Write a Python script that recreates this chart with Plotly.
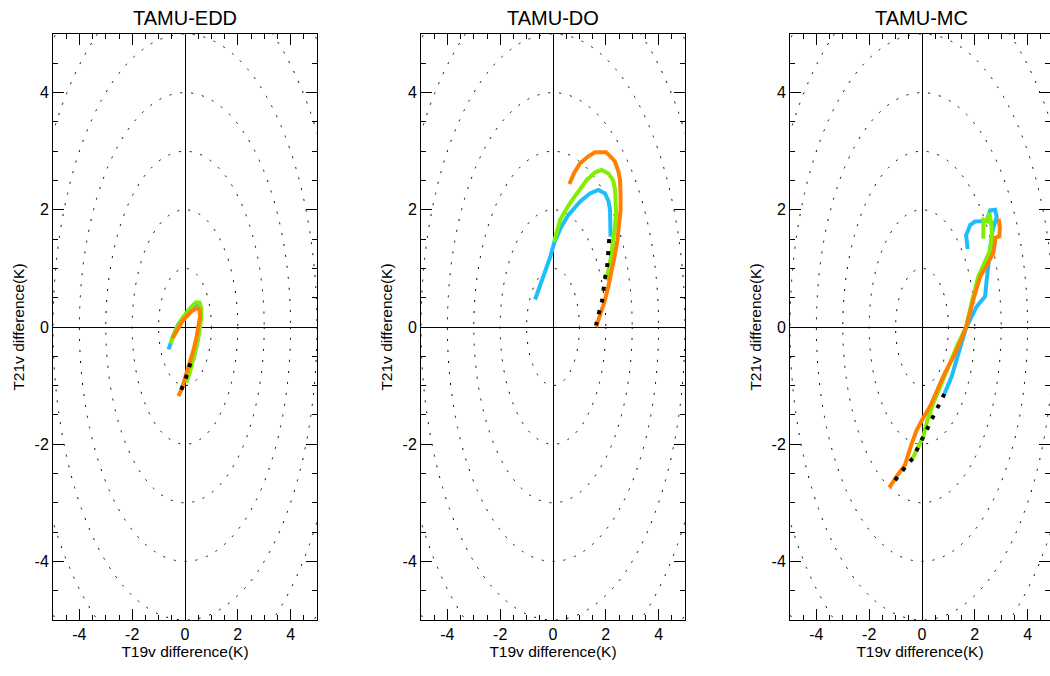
import plotly.graph_objects as go

W, H = 1050, 676

panel_titles = ["TAMU-EDD", "TAMU-DO", "TAMU-MC"]
circle_radii = [1, 2, 3, 4, 5, 6, 7]
tick_vals = [-4, -2, 0, 2, 4]
tick_text = ["-4", "-2", "0", "2", "4"]

# ---- TAMU-EDD ----
edd_cyan_x = [-0.62, -0.45, -0.25, 0.0, 0.25, 0.45, 0.56, 0.6, 0.55, 0.45, 0.32, 0.2]
edd_cyan_y = [-0.38, -0.15, 0.05, 0.2, 0.33, 0.41, 0.38, 0.25, 0.0, -0.3, -0.55, -0.65]
edd_green_x = [-0.55, -0.35, -0.1, 0.15, 0.4, 0.55, 0.62, 0.6, 0.5, 0.35, 0.2, 0.05]
edd_green_y = [-0.28, -0.05, 0.15, 0.3, 0.42, 0.42, 0.32, 0.1, -0.2, -0.5, -0.75, -0.95]
edd_orange_x = [-0.47, -0.31, -0.1, 0.06, 0.25, 0.44, 0.55, 0.57, 0.5, 0.44, 0.33, 0.25, 0.1, 0.0, -0.12, -0.25]
edd_orange_y = [-0.19, -0.05, 0.1, 0.18, 0.27, 0.32, 0.3, 0.18, -0.05, -0.17, -0.38, -0.51, -0.75, -0.9, -1.05, -1.18]
edd_black_x = [0.2, 0.1, 0.0, -0.15]
edd_black_y = [-0.62, -0.78, -0.92, -1.08]

# ---- TAMU-DO ----
do_cyan_x = [-0.68, -0.5, -0.3, -0.1, 0.04, 0.3, 0.58, 1.02, 1.4, 1.72, 1.97, 2.1, 2.16, 2.18, 2.18]
do_cyan_y = [0.47, 0.7, 0.92, 1.2, 1.43, 1.7, 1.91, 2.14, 2.28, 2.34, 2.28, 2.15, 2.0, 1.8, 1.54]
do_green_x = [0.04, 0.15, 0.27, 0.64, 1.0, 1.28, 1.6, 1.84, 2.1, 2.28, 2.35, 2.39, 2.39, 2.34, 2.29, 2.2, 2.1, 2.0]
do_green_y = [1.45, 1.65, 1.83, 2.11, 2.35, 2.51, 2.64, 2.68, 2.62, 2.5, 2.35, 2.1, 1.94, 1.7, 1.48, 1.2, 0.97, 0.8]
do_orange_x = [0.62, 0.8, 1.02, 1.3, 1.59, 2.01, 2.2, 2.35, 2.48, 2.54, 2.56, 2.56, 2.5, 2.44, 2.33, 2.22, 2.1, 1.97, 1.8, 1.63]
do_orange_y = [2.44, 2.63, 2.79, 2.9, 2.98, 2.98, 2.9, 2.82, 2.65, 2.51, 2.25, 2.0, 1.75, 1.48, 1.2, 0.92, 0.7, 0.46, 0.22, 0.0]
do_black_x = [2.13, 2.09, 2.06, 1.98, 1.92, 1.86, 1.74, 1.63]
do_black_y = [1.5, 1.29, 1.07, 0.86, 0.65, 0.45, 0.24, 0.03]

# ---- TAMU-MC ----
mc_cyan_x = [1.73, 1.67, 1.75, 1.82, 2.01, 2.3, 2.45, 2.58, 2.77, 2.83, 2.68, 2.6, 2.51, 2.45, 2.39, 2.07, 1.67, 1.38, 1.12, 0.85]
mc_cyan_y = [1.33, 1.57, 1.65, 1.74, 1.8, 1.8, 1.81, 1.99, 2.0, 1.88, 1.66, 1.4, 1.09, 0.8, 0.52, 0.35, -0.01, -0.45, -0.85, -1.14]
mc_green_x = [2.32, 2.33, 2.48, 2.55, 2.62, 2.65, 2.58, 2.13, 1.9, 1.67, 1.35, 1.06, 0.75, 0.43, 0.2, 0.05, -0.15, -0.35]
mc_green_y = [1.51, 1.83, 1.8, 1.95, 1.78, 1.6, 1.31, 0.86, 0.45, 0.0, -0.3, -0.62, -0.95, -1.3, -1.6, -1.87, -2.05, -2.24]
mc_orange_x = [2.9, 2.95, 2.93, 2.78, 2.75, 2.7, 2.45, 2.2, 1.94, 1.67, 1.45, 1.19, 0.85, 0.56, 0.3, 0.05, -0.2, -0.39, -0.64, -0.96, -1.24]
mc_orange_y = [1.85, 1.7, 1.55, 1.52, 1.4, 1.26, 1.05, 0.86, 0.46, 0.0, -0.25, -0.51, -0.8, -1.08, -1.36, -1.55, -1.76, -1.99, -2.35, -2.55, -2.74]
mc_black_x = [0.85, 0.62, 0.43, 0.24, 0.03, -0.18, -0.35, -0.63, -0.9, -1.19]
mc_black_y = [-1.14, -1.33, -1.52, -1.7, -1.88, -2.06, -2.24, -2.39, -2.55, -2.71]

panels = [
    (edd_cyan_x, edd_cyan_y, edd_green_x, edd_green_y, edd_orange_x, edd_orange_y, edd_black_x, edd_black_y),
    (do_cyan_x, do_cyan_y, do_green_x, do_green_y, do_orange_x, do_orange_y, do_black_x, do_black_y),
    (mc_cyan_x, mc_cyan_y, mc_green_x, mc_green_y, mc_orange_x, mc_orange_y, mc_black_x, mc_black_y),
]

CYAN = "#1EBEFA"
GREEN = "#80F000"
ORANGE = "#FF8000"
FONT = "Liberation Sans, Arial, sans-serif"

# pixel layout
px_per_unit = 26.4
left_px = [53, 421, 790]
top_px, bot_px = 34, 620

fig = go.Figure()

for i, p in enumerate(panels):
    ax = "" if i == 0 else str(i + 1)
    xref, yref = "x" + ax, "y" + ax
    cx, cy, gx, gy, ox, oy, bx, by = p
    for xs, ys, col in [(cx, cy, CYAN), (gx, gy, GREEN), (ox, oy, ORANGE)]:
        fig.add_trace(go.Scatter(x=xs, y=ys, mode="lines", xaxis=xref, yaxis=yref,
                                 line=dict(color=col, width=4), showlegend=False,
                                 hoverinfo="skip"))
    fig.add_trace(go.Scatter(x=bx, y=by, mode="lines", xaxis=xref, yaxis=yref,
                             line=dict(color="black", width=4, dash="4px,8px"),
                             showlegend=False, hoverinfo="skip"))
    for r in circle_radii:
        fig.add_shape(type="circle", xref=xref, yref=yref, x0=-r, x1=r, y0=-r, y1=r,
                      line=dict(color="black", width=1, dash="2px,9px"), layer="below")

    x0p = left_px[i]
    x1p = min(x0p + 10 * px_per_unit, W)
    xmax = -5 + (x1p - x0p) / px_per_unit
    dom_x = [x0p / W, x1p / W]
    dom_y = [1 - bot_px / H, 1 - top_px / H]
    common = dict(showline=True, linecolor="black", linewidth=1, mirror="allticks",
                  ticks="inside", ticklen=11, tickwidth=1, tickcolor="black",
                  tickvals=tick_vals, ticktext=tick_text, showgrid=False,
                  zeroline=True, zerolinecolor="black", zerolinewidth=1,
                  tickfont=dict(family=FONT, size=16, color="black"),
                  minor=dict(dtick=0.5, tick0=0, ticklen=5, tickcolor="black", ticks="inside",
                             showgrid=False),
                  fixedrange=True)
    fig.update_layout(**{
        "xaxis" + ax: dict(common, domain=dom_x, range=[-5, xmax], anchor=yref,
                           title=dict(text="T19v difference(K)", standoff=3,
                                      font=dict(family=FONT, size=15.5, color="black"))),
        "yaxis" + ax: dict(common, domain=dom_y, range=[-5, 5], anchor=xref,
                           title=dict(text="T21v difference(K)", standoff=6,
                                      font=dict(family=FONT, size=15.5, color="black"))),
    })
    fig.add_annotation(text=panel_titles[i], xref="paper", yref="paper",
                       x=(x0p + 5 * px_per_unit) / W, y=1 - 18 / H,
                       showarrow=False, xanchor="center", yanchor="middle",
                       font=dict(family=FONT, size=20, color="black"))

fig.update_layout(width=W, height=H, margin=dict(l=0, r=0, t=0, b=0),
                  paper_bgcolor="white", plot_bgcolor="white")

fig.write_html("out.html")
